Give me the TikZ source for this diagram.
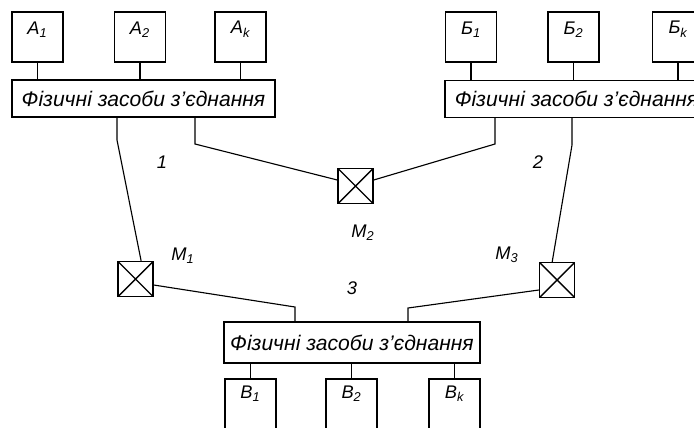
\documentclass[tikz,border=0pt]{standalone}
\usepackage{fontspec}
\setmainfont{Liberation Sans}
\usetikzlibrary{positioning}
\newcommand{\idx}[2]{#1\textsubscript{#2}}

\begin{document}
\begin{tikzpicture}[x=0.025cm, y=-0.025cm, line width=0.8pt,
	unit/.style={draw, line width=1pt, minimum width=1.275cm, minimum height=1.25cm, inner sep=0pt},
	unitlabel/.style={font=\itshape\fontsize{13}{13}\selectfont},
	link/.style={draw, line width=1pt, minimum width=6.575cm, minimum height=0.925cm, inner sep=0pt, font=\itshape\fontsize{15}{16}\selectfont},
	mux/.style={draw, line width=1pt, minimum size=0.875cm, inner sep=0pt,
		path picture={\draw (path picture bounding box.north west) -- (path picture bounding box.south east) (path picture bounding box.south west) -- (path picture bounding box.north east);}},
	tag/.style={font=\itshape\fontsize{13}{13}\selectfont}]
	\useasboundingbox (0,0) rectangle (694,427);
	\clip (0,0) rectangle (694,427);

	% upper left group
	\node[unit] (a1) at (37.5,37) {};
	\node[unit] (a2) at (140,37) {};
	\node[unit] (ak) at (240.5,37) {};
	\node[unitlabel] at ([yshift=-0.45cm]a1.north) {\idx{A}{1}};
	\node[unitlabel] at ([yshift=-0.45cm]a2.north) {\idx{A}{2}};
	\node[unitlabel] at ([yshift=-0.45cm]ak.north) {\idx{A}{k}};
	\node[link] (bar1) at (143.5,98.5) {Фізичні засоби з'єднання};

	% upper right group
	\node[unit] (b1) at (471,37) {};
	\node[unit] (b2) at (573.5,37) {};
	\node[unit] (bk) at (678,37) {};
	\node[unitlabel] at ([yshift=-0.45cm]b1.north) {\idx{Б}{1}};
	\node[unitlabel] at ([yshift=-0.45cm]b2.north) {\idx{Б}{2}};
	\node[unitlabel] at ([yshift=-0.45cm]bk.north) {\idx{Б}{k}};
	\node[link] (bar2) at (576.5,99) {Фізичні засоби з'єднання};

	% lower group
	\node[link, minimum width=6.4cm, minimum height=1.025cm] (bar3) at (352,342.5) {Фізичні засоби з'єднання};
	\node[unit] (v1) at (250.5,404) {};
	\node[unit] (v2) at (351.5,404) {};
	\node[unit] (vk) at (454.5,404) {};
	\node[unitlabel] at ([yshift=-0.38cm]v1.north) {\idx{В}{1}};
	\node[unitlabel] at ([yshift=-0.38cm]v2.north) {\idx{В}{2}};
	\node[unitlabel] at ([yshift=-0.38cm]vk.north) {\idx{В}{k}};

	% switches
	\node[mux] (m1) at (135.5,279) {};
	\node[mux] (m2) at (355.5,186) {};
	\node[mux] (m3) at (557,280) {};
	\node[tag] (lm1) at (183,256) {\idx{M}{1}};
	\node[tag] (lm2) at (363,233) {\idx{M}{2}};
	\node[tag] (lm3) at (507,255) {\idx{M}{3}};
	\node[tag] (n1) at (162,162) {1};
	\node[tag] (n2) at (538,162) {2};
	\node[tag] (n3) at (352,288) {3};

	% stems
	\foreach \u in {a1,a2,ak} \draw (\u.south) -- (\u.south |- bar1.north);
	\foreach \u in {b1,b2,bk} \draw (\u.south) -- (\u.south |- bar2.north);
	\foreach \u in {v1,v2,vk} \draw (\u.north) -- (\u.north |- bar3.south);

	% channels
	\coordinate (p1) at (117,140);
	\coordinate (p2) at (195,144);
	\coordinate (p3) at (495,144);
	\coordinate (p4) at (572,145);
	\coordinate (p5) at (295,307);
	\coordinate (p6) at (408,308);
	\draw (bar1.south -| p1) -- (p1) -- ([xshift=0.14cm]m1.north);
	\draw (bar1.south -| p2) -- (p2) -- ([yshift=0.15cm]m2.west);
	\draw ([yshift=0.15cm]m2.east) -- (p3) -- (bar2.south -| p3);
	\draw (bar2.south -| p4) -- (p4) -- ([xshift=-0.12cm]m3.north);
	\draw ([yshift=-0.15cm]m1.east) -- (p5) -- (bar3.north -| p5);
	\draw ([yshift=-0.25cm]m3.west) -- (p6) -- (bar3.north -| p6);
\end{tikzpicture}
\end{document}
